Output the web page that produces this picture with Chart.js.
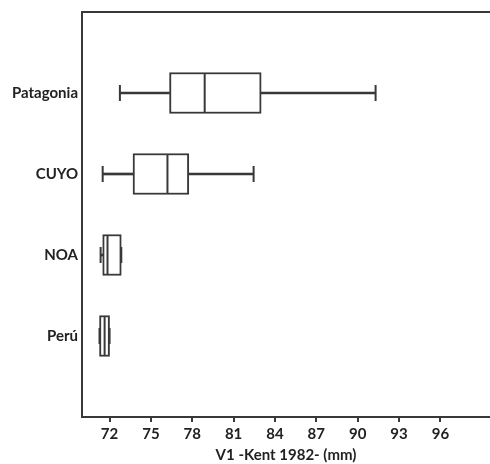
<!DOCTYPE html>
<html>
<head>
<meta charset="utf-8">
<script src="https://cdn.jsdelivr.net/npm/chart.js@4"></script>
<style>
  html, body { margin: 0; padding: 0; background: #fff; overflow: hidden; }
  canvas { display: block; }
</style>
</head>
<body>
<canvas id="c" width="490" height="464"></canvas>
<script>
// ---- data ----
const categories = ['Patagonia', 'CUYO', 'NOA', 'Perú'];
const whiskerMin = [72.75, 71.5, 71.35, 71.27];
const q1Values   = [76.35, 73.7, 71.5, 71.27];
const medians    = [78.9, 76.2, 71.85, 71.64];
const q3Values   = [83.0, 77.75, 72.85, 72.0];
const whiskerMax = [91.3, 82.45, 72.85, 72.0];
const xTickValues = [72, 75, 78, 81, 84, 87, 90, 93, 96];
const xTitle = 'V1 -Kent 1982- (mm)';

const ink = '#383838';
const labelFont = { family: 'Lato', weight: 'bold', size: 15 };
// pad categories with empty slots so boxes sit at the reference spacing
const labels = [''].concat(categories, ['']);
const pad = arr => [null].concat(arr, [null]);
const pairs = (a, b) => pad(a.map((v, i) => [v, b[i]]));
const marks = arr => arr.map((v, i) => ({ x: v, y: categories[i] }));

const frame = {
  id: 'frame',
  afterDraw(chart) {
    const { ctx, chartArea: a } = chart;
    ctx.save();
    ctx.strokeStyle = ink;
    ctx.lineWidth = 2;
    ctx.beginPath();
    ctx.moveTo(a.left, a.top);
    ctx.lineTo(chart.width, a.top);
    ctx.stroke();
    ctx.restore();
  }
};

const whiskCommon = {
  type: 'bar', grouped: false, backgroundColor: ink,
  borderWidth: 0, barThickness: 2, order: 3
};
const lineMark = (radius) => ({
  type: 'scatter', pointStyle: 'line', rotation: 90, radius: radius,
  borderColor: ink, borderWidth: 2, order: 0, clip: false
});

new Chart(document.getElementById('c'), {
  type: 'bar',
  data: {
    labels: labels,
    datasets: [
      Object.assign({ data: pairs(whiskerMin, q1Values) }, whiskCommon),
      Object.assign({ data: pairs(q3Values, whiskerMax) }, whiskCommon),
      {
        type: 'bar', grouped: false, data: pairs(q1Values, q3Values),
        backgroundColor: '#ffffff', borderColor: ink, borderWidth: 2,
        borderSkipped: false, barThickness: 41, order: 2
      },
      Object.assign({ data: marks(medians) }, lineMark(20)),
      Object.assign({ data: marks(whiskerMin) }, lineMark(8)),
      Object.assign({ data: marks(whiskerMax) }, lineMark(8))
    ]
  },
  options: {
    indexAxis: 'y',
    responsive: false,
    animation: false,
    layout: { autoPadding: false, padding: { top: 12, right: 0, left: 0, bottom: 0 } },
    plugins: { legend: { display: false }, tooltip: { enabled: false } },
    scales: {
      x: {
        type: 'linear',
        min: 70,
        max: 99.6,
        afterBuildTicks: s => { s.ticks = xTickValues.map(v => ({ value: v })); },
        afterFit: s => { s.height = 47; s.paddingLeft = 0; s.paddingRight = 0; },
        grid: { display: true, drawOnChartArea: false, drawTicks: true, tickLength: 5, color: ink, lineWidth: 2 },
        border: { display: true, color: ink, width: 2 },
        ticks: { color: '#222', padding: 3, font: labelFont },
        title: { display: true, text: xTitle, color: '#222', padding: { top: 0, bottom: 0 }, font: labelFont }
      },
      y: {
        type: 'category',
        offset: false,
        afterFit: s => { s.width = 82; s.paddingTop = 0; s.paddingBottom = 0; },
        grid: { display: false, drawTicks: false },
        border: { display: true, color: ink, width: 2 },
        ticks: { color: '#222', padding: 4, font: labelFont }
      }
    }
  },
  plugins: [frame]
});
</script>
</body>
</html>
